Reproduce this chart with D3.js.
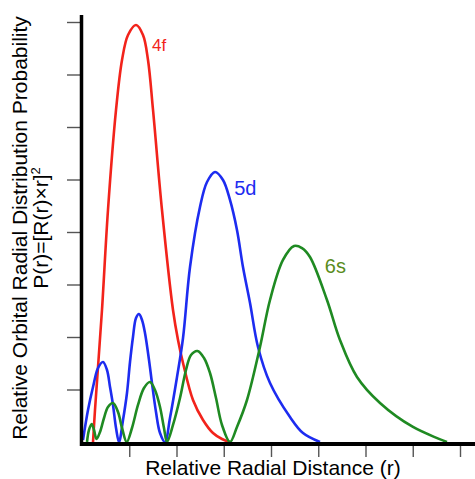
<!DOCTYPE html>
<html>
<head>
<meta charset="utf-8">
<script src="https://cdn.jsdelivr.net/npm/d3@7/dist/d3.min.js"></script>
<style>
  html, body { margin: 0; padding: 0; background: #fff; }
  svg { display: block; font-family: "Liberation Sans", Arial, sans-serif; }
</style>
</head>
<body>
<svg id="chart" width="475" height="479"></svg>
<script>
// values, in tick units (r, P)
const xTicks = [1, 2, 3, 4, 5, 6, 7, 8];
const yTicks = [1, 2, 3, 4, 5, 6, 7, 8];

const r4f = [0.233, 0.275, 0.339, 0.423, 0.550, 0.720, 0.847, 0.974, 1.143, 1.291, 1.397, 1.503, 1.693, 1.926, 2.032, 2.138, 2.349, 2.561, 2.772, 2.963, 3.132];
const p4f = [0, 0.610, 1.429, 2.514, 4.419, 6.324, 7.276, 7.752, 7.943, 7.752, 7.276, 6.324, 4.419, 2.514, 1.943, 1.505, 0.800, 0.419, 0.171, 0.057, 0];

const r5d = [0.021, 0.127, 0.233, 0.339, 0.444, 0.529, 0.593, 0.656, 0.720, 0.783, 0.868, 0.952, 1.016, 1.079, 1.143, 1.206, 1.270, 1.333, 1.418, 1.481, 1.566, 1.651, 1.757, 1.862, 2.011, 2.138, 2.286, 2.497, 2.646, 2.815, 2.984, 3.132, 3.280, 3.407, 3.556, 3.725, 3.979, 4.402, 4.677, 5.037];
const p5d = [0.038, 0.610, 1.048, 1.410, 1.524, 1.371, 1.048, 0.705, 0.267, 0, 0.419, 0.933, 1.524, 2.000, 2.362, 2.438, 2.324, 2.076, 1.562, 1.124, 0.571, 0.171, 0, 0.457, 1.238, 1.981, 3.333, 4.476, 4.952, 5.143, 4.990, 4.610, 4.038, 3.333, 2.648, 1.810, 1.124, 0.476, 0.171, 0];

const r6s = [0.106, 0.148, 0.205, 0.254, 0.307, 0.381, 0.466, 0.550, 0.656, 0.762, 0.847, 0.946, 1.058, 1.185, 1.312, 1.439, 1.545, 1.651, 1.735, 1.799, 1.926, 2.074, 2.201, 2.307, 2.444, 2.582, 2.709, 2.836, 2.963, 3.132, 3.280, 3.492, 3.767, 3.979, 4.254, 4.487, 4.656, 4.825, 5.185, 5.460, 5.820, 6.307, 7.005, 7.725];
const p6s = [0, 0.229, 0.343, 0.229, 0.057, 0.190, 0.457, 0.667, 0.743, 0.571, 0.267, 0, 0.267, 0.705, 1.029, 1.143, 0.990, 0.667, 0.267, 0, 0.324, 0.838, 1.371, 1.657, 1.733, 1.600, 1.314, 0.838, 0.324, 0, 0.286, 0.800, 1.810, 2.705, 3.467, 3.733, 3.695, 3.524, 2.705, 1.943, 1.238, 0.743, 0.286, 0];

const orbitals = ["4f", "5d", "6s"];
const lineColors = ["#f2231b", "#1d2cf0", "#1f8a22"];
const labelColors = ["#f2231b", "#1d2cf0", "#5a8c1c"];

const svg = d3.select("#chart");

const x = d3.scaleLinear().domain([0, 8]).range([82, 460]);
const y = d3.scaleLinear().domain([0, 8]).range([442, 22]);

// tick marks only, the heavy axis lines are drawn on their own
const yAxis = svg.append("g")
  .attr("transform", "translate(81,0)")
  .call(d3.axisLeft(y).tickValues(yTicks).tickSize(14).tickFormat(""));
yAxis.select(".domain").remove();
yAxis.selectAll(".tick line").attr("stroke", "#555").attr("stroke-width", 1.4);

const xAxis = svg.append("g")
  .attr("transform", "translate(0,446)")
  .call(d3.axisBottom(x).tickValues(xTicks).tickSize(11).tickFormat(""));
xAxis.select(".domain").remove();
xAxis.selectAll(".tick line").attr("stroke", "#555").attr("stroke-width", 1.4);

// curves
const series = [[r4f, p4f], [r5d, p5d], [r6s, p6s]];
const line = d3.line()
  .x(d => x(d[0]))
  .y(d => y(d[1]))
  .curve(d3.curveCatmullRom.alpha(0.5));

series.forEach((s, i) => {
  svg.append("path")
    .datum(d3.zip(s[0], s[1]))
    .attr("fill", "none")
    .attr("stroke", lineColors[i])
    .attr("stroke-width", 2.6)
    .attr("stroke-linejoin", "round")
    .attr("d", line);
});

// axis lines
svg.append("line")
  .attr("x1", 81.5).attr("x2", 81.5)
  .attr("y1", 15).attr("y2", 446)
  .attr("stroke", "#000").attr("stroke-width", 3.5);
svg.append("line")
  .attr("x1", 80).attr("x2", 475)
  .attr("y1", 444).attr("y2", 444)
  .attr("stroke", "#000").attr("stroke-width", 4);

// curve labels
svg.append("text")
  .attr("x", x(1.48)).attr("y", y(7.45))
  .attr("fill", labelColors[0])
  .style("font-size", "17px")
  .text(orbitals[0]);
svg.append("text")
  .attr("x", x(3.22)).attr("y", y(4.7))
  .attr("fill", labelColors[1])
  .style("font-size", "20px")
  .text(orbitals[1]);
svg.append("text")
  .attr("x", x(5.14)).attr("y", y(3.22))
  .attr("fill", labelColors[2])
  .style("font-size", "20px")
  .text(orbitals[2]);

// axis titles
svg.append("text")
  .attr("x", 273).attr("y", 475)
  .attr("text-anchor", "middle")
  .style("font-size", "21px")
  .text("Relative Radial Distance (r)");

const yTitle = svg.append("text")
  .attr("transform", "translate(27,228) rotate(-90)")
  .attr("text-anchor", "middle")
  .style("font-size", "21px");
yTitle.append("tspan")
  .attr("x", 0).attr("y", 0)
  .text("Relative Orbital Radial Distribution Probability");
yTitle.append("tspan")
  .attr("x", 0).attr("y", 21)
  .text("P(r)=[R(r)×r]");
yTitle.append("tspan")
  .attr("dy", -8)
  .style("font-size", "13px")
  .text("2");
</script>
</body>
</html>
